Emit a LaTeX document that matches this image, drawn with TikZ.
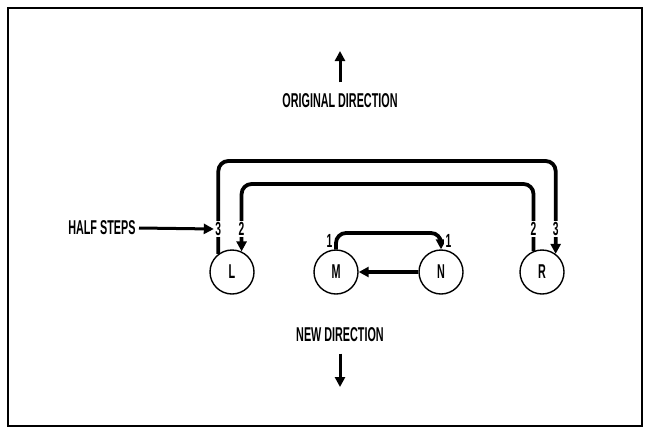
\documentclass[tikz,border=0pt]{standalone}
\usepackage{fontspec}
\setmainfont{Liberation Sans}[FakeStretch=0.54]
\usetikzlibrary{arrows.meta,calc}

\begin{document}
\begin{tikzpicture}[x=1pt,y=-1pt,
    dancer/.style={circle,draw,line width=1.4pt,minimum size=44pt,inner sep=0pt,
      font=\fontsize{20}{22}\selectfont\bfseries},
    link/.style={line width=3.8pt,rounded corners=10pt},
    tip/.style={-{Triangle[length=10pt,width=10pt]}},
    count/.style={fill=white,inner sep=1.5pt,font=\fontsize{19}{21}\selectfont\bfseries},
    caption/.style={font=\fontsize{20}{22}\selectfont\bfseries}]
  \useasboundingbox (0,0) rectangle (650,434);
  \draw[line width=1.8pt] (8,8) rectangle (642,426);
  % the four dancers
  \node[dancer] (L) at (232,272) {L};
  \node[dancer] (M) at (336,272) {M};
  \node[dancer] (N) at (441,272) {N};
  \node[dancer] (R) at (542,272) {R};
  \coordinate (outer) at (0,161);
  \coordinate (inner) at (0,184);
  \coordinate (mn) at (0,233);
  \coordinate (lab) at (0,229);
  % half step links
  \draw[link,tip] (L.127) -- (L.127 |- outer) -- (R.53 |- outer) -- (R.53);
  \draw[link,tip] (R.112) -- (R.112 |- inner) -- (L.65 |- inner) -- (L.65);
  \draw[link,tip] (M.north) -- (M.north |- mn) -- (N.north |- mn) -- (N.north);
  \draw[line width=3.8pt,tip] (N.west) -- (M.east);
  \node[count] (l3) at (L.127 |- lab) {3};
  \node[count] (l2) at (L.65 |- lab) {2};
  \node[count] (r2) at (R.112 |- lab) {2};
  \node[count] (r3) at (R.53 |- lab) {3};
  \node[count,anchor=east] (m1) at ($(M.north |- mn)+(-2,8)$) {1};
  \node[count,anchor=west] (n1) at ($(N.north |- mn)+(3,8)$) {1};
  \node[caption,anchor=east] (half) at (139,228) {HALF STEPS};
  \draw[line width=3pt,tip] (half.east) -- (l3.west);
  % directions
  \node[caption] (orig) at (340,101) {ORIGINAL DIRECTION};
  \coordinate (up) at (340,51);
  \draw[line width=3pt,tip] ($(orig.north)+(0,-8)$) -- (up);
  \node[caption] (new) at (340,335) {NEW DIRECTION};
  \coordinate (down) at (340,387);
  \draw[line width=3pt,tip] ($(new.south)+(0,8)$) -- (down);
\end{tikzpicture}
\end{document}
